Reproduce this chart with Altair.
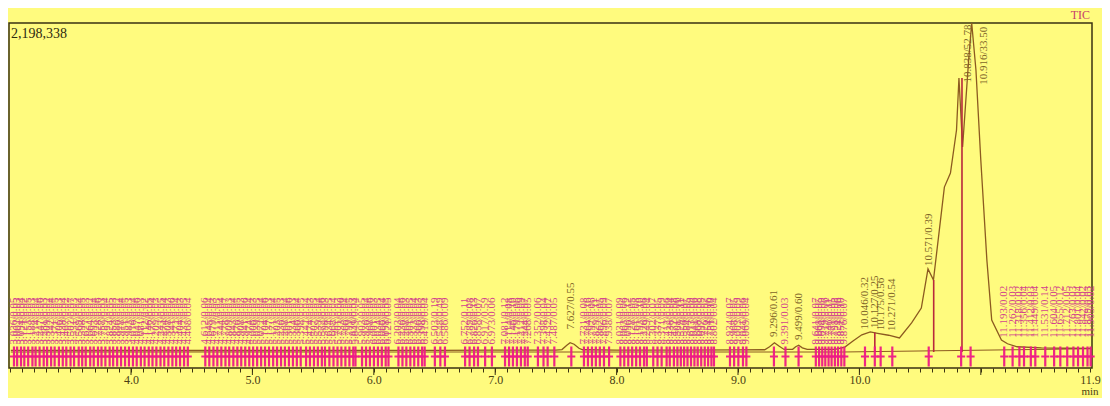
import altair as alt
import pandas as pd

# ---------------- data ----------------
trace_t = [3.01, 3.50, 4.00, 4.50, 4.55, 5.00, 5.50, 6.00, 6.50, 7.00,
           7.50, 7.55, 7.59, 7.617, 7.65, 7.69, 7.72, 8.00, 8.50, 9.00,
           9.22, 9.26, 9.30, 9.34, 9.38, 9.45, 9.475, 9.50, 9.53, 9.57,
           9.80, 9.88, 9.95, 10.02, 10.09, 10.15, 10.24, 10.33, 10.43, 10.51,
           10.565, 10.61, 10.70, 10.75, 10.80, 10.82, 10.85, 10.90, 10.925, 10.96,
           11.00, 11.05, 11.09, 11.17, 11.22, 11.30, 11.50, 11.70, 11.93]
trace_i = [11000, 10000, 10000, 10000, 10000, 10000, 10000, 11000, 11000, 12000,
           13000, 16000, 45000, 62000, 52000, 25000, 15000, 13000, 13000, 14000,
           15000, 35000, 62000, 38000, 17000, 18000, 35000, 45000, 28000, 17000,
           18000, 33000, 75000, 115000, 134000, 125000, 112000, 94000, 194000, 294000,
           555000, 481000, 1102000, 1196000, 1483000, 1831000, 1370000, 1951000, 2198338, 1884000,
           1283000, 615000, 214000, 80000, 55000, 35000, 28000, 25000, 24000]

baseline_t = [3.01, 9.86, 11.93]
baseline_i = [0, 0, 22000]

peaks_dense = [
    "3.036/0.05", "3.062/0.03", "3.094/0.04", "3.121/0.02", "3.153/0.05", "3.188/0.03",
    "3.214/0.04", "3.247/0.06", "3.281/0.03", "3.309/0.02", "3.342/0.04", "3.371/0.05",
    "3.406/0.03", "3.438/0.04", "3.467/0.02", "3.502/0.07", "3.531/0.03", "3.569/0.04",
    "3.598/0.05", "3.627/0.03", "3.664/0.02", "3.693/0.04", "3.728/0.06", "3.757/0.03",
    "3.789/0.04", "3.824/0.05", "3.853/0.03", "3.886/0.02", "3.918/0.04", "3.951/0.05",
    "3.983/0.03", "4.016/0.04", "4.047/0.06", "4.081/0.03", "4.112/0.02", "4.146/0.05",
    "4.177/0.04", "4.209/0.03", "4.243/0.05", "4.274/0.04", "4.308/0.03", "4.341/0.06",
    "4.372/0.04", "4.404/0.03", "4.437/0.05", "4.468/0.04",
    "4.612/0.06", "4.645/0.04", "4.679/0.03", "4.711/0.05", "4.744/0.04", "4.778/0.07",
    "4.809/0.03", "4.843/0.04", "4.876/0.05", "4.908/0.03", "4.941/0.06", "4.974/0.04",
    "5.006/0.03", "5.039/0.05", "5.072/0.04", "5.104/0.06", "5.137/0.03", "5.171/0.04",
    "5.203/0.05", "5.236/0.03", "5.268/0.04", "5.301/0.06", "5.334/0.03", "5.366/0.04",
    "5.398/0.05",
    "5.442/0.04", "5.474/0.03", "5.507/0.05", "5.539/0.04", "5.572/0.06", "5.598/0.03",
    "5.634/0.05", "5.668/0.04", "5.701/0.03", "5.733/0.06", "5.766/0.04", "5.799/0.05",
    "5.831/0.03", "5.849/0.04",
    "5.903/0.05", "5.936/0.04", "5.968/0.06", "6.001/0.03", "6.034/0.05", "6.066/0.04",
    "6.098/0.03", "6.121/0.05",
    "6.203/0.04", "6.236/0.06", "6.268/0.03", "6.301/0.05", "6.333/0.04", "6.366/0.03",
    "6.398/0.05", "6.419/0.04",
    "6.503/0.19", "6.548/0.49", "6.586/0.09",
    "6.752/0.11", "6.789/0.08", "6.826/0.13", "6.858/0.07",
    "6.917/0.59", "6.973/0.06",
    "7.081/0.12", "7.114/0.08", "7.146/0.10", "7.179/0.06", "7.212/0.09", "7.244/0.07",
    "7.268/0.05",
    "7.352/0.06", "7.398/0.04", "7.432/0.07", "7.487/0.05",
    "7.731/0.08", "7.764/0.16", "7.797/0.06", "7.829/0.11", "7.862/0.05", "7.896/0.09",
    "7.938/0.07",
    "8.031/0.09", "8.063/0.06", "8.096/0.12", "8.128/0.05", "8.161/0.08", "8.193/0.10",
    "8.226/0.06", "8.249/0.04",
    "8.302/0.07", "8.337/0.05", "8.371/0.09", "8.412/0.06", "8.438/0.04",
    "8.472/0.08", "8.501/0.06", "8.529/0.11", "8.556/0.07", "8.584/0.05", "8.613/0.09",
    "8.641/0.06", "8.668/0.08", "8.697/0.05", "8.726/0.07", "8.754/0.06", "8.781/0.10",
    "8.802/0.04",
    "8.934/0.07", "8.968/0.05", "9.003/0.09", "9.041/0.06", "9.069/0.04",
    "9.391/0.03",
    "9.641/0.07", "9.668/0.05", "9.694/0.09", "9.719/0.06", "9.746/0.11", "9.771/0.05",
    "9.798/0.08", "9.824/0.06", "9.851/0.10", "9.876/0.07",
]
dense_base = 50000

peaks_right = [
    "11.193/0.02", "11.262/0.03", "11.318/0.02", "11.356/0.04", "11.412/0.03",
    "11.449/0.04", "11.531/0.14", "11.604/0.05", "11.655/0.12", "11.712/0.05",
    "11.763/0.03", "11.801/0.04", "11.842/0.02", "11.879/0.03", "11.905/0.02",
]
right_base = 95000

peaks_isolated = ["7.627/0.55", "9.296/0.61", "9.499/0.60", "10.046/0.32",
                  "10.127/0.25", "10.175/0.56", "10.271/0.54", "10.571/0.39"]
isolated_base = [150000, 100000, 80000, 150000, 160000, 145000, 140000, 575000]

peak_big_a = "10.838/52.78"
peak_big_a_base = 1800000
peak_big_b = "10.916/33.50"
peak_big_b_base = 1785000

drop_t = [10.127, 10.612, 10.845]
drop_i = [130000, 481000, 1830000]

x_label_values = [4.0, 5.0, 6.0, 7.0, 8.0, 9.0, 10.0, 11.9]
major_tick_values = [4.0, 5.0, 6.0, 7.0, 8.0, 9.0, 10.0, 11.0]
y_max = 2198338

# ---------------- styling / layout ----------------
X_MIN, X_MAX = 2.995, 11.916
PLOT_W, PLOT_H = 1083, 345
Y_MIN = -y_max * 16 / 329

BG = "#FFFB7E"
TRACE = "#8C5A20"
DROP = "#B8283C"
CROSS = "#EE1A86"
LAB_PINK = "#D2448C"
LAB_BROWN = "#7E6428"
AXIS_TXT = "#4A3E12"
BORDER = "#3A3212"
SERIF = "Liberation Serif"

minor_vals = [round(3.0 + 0.1 * k, 1) for k in range(90)]
label_js = "[" + ",".join(str(v) for v in x_label_values) + "]"

x_axis = alt.Axis(
    values=minor_vals,
    labelExpr=f"indexof({label_js}, datum.value) >= 0 ? format(datum.value, '.1f') : ''",
    domain=False, grid=False, ticks=True, tickSize=4, tickColor=BORDER, tickWidth=1,
    labelFont=SERIF, labelFontSize=12, labelColor=AXIS_TXT, labelPadding=2,
    labelFlush=False, labelOverlap=False, title=None,
)
X = alt.X("t:Q", scale=alt.Scale(domain=[X_MIN, X_MAX], nice=False, zero=False), axis=x_axis)
Y = alt.Y("i:Q", scale=alt.Scale(domain=[Y_MIN, y_max], nice=False, zero=False), axis=None)


def peak_frame(labels, bases):
    return pd.DataFrame({
        "t": [float(s.split("/")[0]) for s in labels],
        "i": bases,
        "lab": labels,
    })


dense_df = peak_frame(peaks_dense, [dense_base] * len(peaks_dense))
right_df = peak_frame(peaks_right, [right_base] * len(peaks_right))
iso_df = peak_frame(peaks_isolated, isolated_base)
big_a_df = peak_frame([peak_big_a], [peak_big_a_base])
big_b_df = peak_frame([peak_big_b], [peak_big_b_base])

all_labels = peaks_dense + peaks_right + peaks_isolated + [peak_big_a, peak_big_b]
cross_df = pd.DataFrame({
    "t": [float(s.split("/")[0]) for s in all_labels],
    "i": [-30000] * len(all_labels),
})

trace_df = pd.DataFrame({"t": trace_t, "i": trace_i})
base_df = pd.DataFrame({"t": baseline_t, "i": baseline_i})
drop_df = pd.DataFrame({"t": drop_t, "i": drop_i, "i0": [0] * len(drop_t)})
major_df = pd.DataFrame({"t": major_tick_values})
unit_df = pd.DataFrame({"t": [x_label_values[-1]], "s": ["min"]})

text_kw = dict(angle=270, align="left", baseline="middle", font=SERIF, fontSize=11)

lab_dense = alt.Chart(dense_df).mark_text(color=LAB_PINK, **text_kw).encode(x=X, y=Y, text="lab:N")
lab_right = alt.Chart(right_df).mark_text(color=LAB_PINK, **text_kw).encode(x=X, y=Y, text="lab:N")
lab_iso = alt.Chart(iso_df).mark_text(color=LAB_BROWN, **text_kw).encode(x=X, y=Y, text="lab:N")
lab_big_a = alt.Chart(big_a_df).mark_text(color=LAB_BROWN, dy=7, **text_kw).encode(x=X, y=Y, text="lab:N")
lab_big_b = alt.Chart(big_b_df).mark_text(color=LAB_BROWN, dy=13, **text_kw).encode(x=X, y=Y, text="lab:N")

base_line = alt.Chart(base_df).mark_line(color=TRACE, strokeWidth=1, clip=True).encode(x=X, y=Y)
trace = alt.Chart(trace_df).mark_line(color=TRACE, strokeWidth=1.3, clip=True).encode(x=X, y=Y)
drops = alt.Chart(drop_df).mark_rule(color=DROP, strokeWidth=1.6).encode(x=X, y=Y, y2="i0:Q")
crosses = alt.Chart(cross_df).mark_point(
    shape="M-0.4,0H0.4M0,-1V1", size=400, filled=False, color=CROSS, strokeWidth=2.2, opacity=0.95
).encode(x=X, y=Y)
majors = alt.Chart(major_df).mark_rule(color=BORDER, strokeWidth=1).encode(
    x=X, y=alt.value(PLOT_H), y2=alt.value(PLOT_H + 7)
)

top_val = alt.Chart(pd.DataFrame({"s": [f"{y_max:,}"]})).mark_text(
    align="left", baseline="top", font=SERIF, fontSize=14, color="#2E2A10"
).encode(x=alt.value(2), y=alt.value(4), text="s:N")
tic = alt.Chart(pd.DataFrame({"s": ["TIC"]})).mark_text(
    align="right", baseline="alphabetic", font=SERIF, fontSize=12, color="#C8406A"
).encode(x=alt.value(PLOT_W - 2), y=alt.value(-4), text="s:N")
unit = alt.Chart(unit_df).mark_text(
    align="center", baseline="bottom", font=SERIF, fontSize=11, color=AXIS_TXT
).encode(x=X, y=alt.value(PLOT_H + 29), text="s:N")

chart = alt.layer(
    lab_dense, lab_right, lab_iso, lab_big_a, lab_big_b,
    base_line, trace, drops, crosses, majors, top_val, tic, unit,
).properties(
    width=PLOT_W, height=PLOT_H,
    autosize=alt.AutoSizeParams(type="none"),
    padding={"left": 1, "top": 15, "right": 10, "bottom": 30},
    background=BG,
).configure_view(
    fill=BG, stroke=BORDER, strokeWidth=1.5
)

chart.save("out.html", embed_options={"renderer": "svg", "actions": False})
